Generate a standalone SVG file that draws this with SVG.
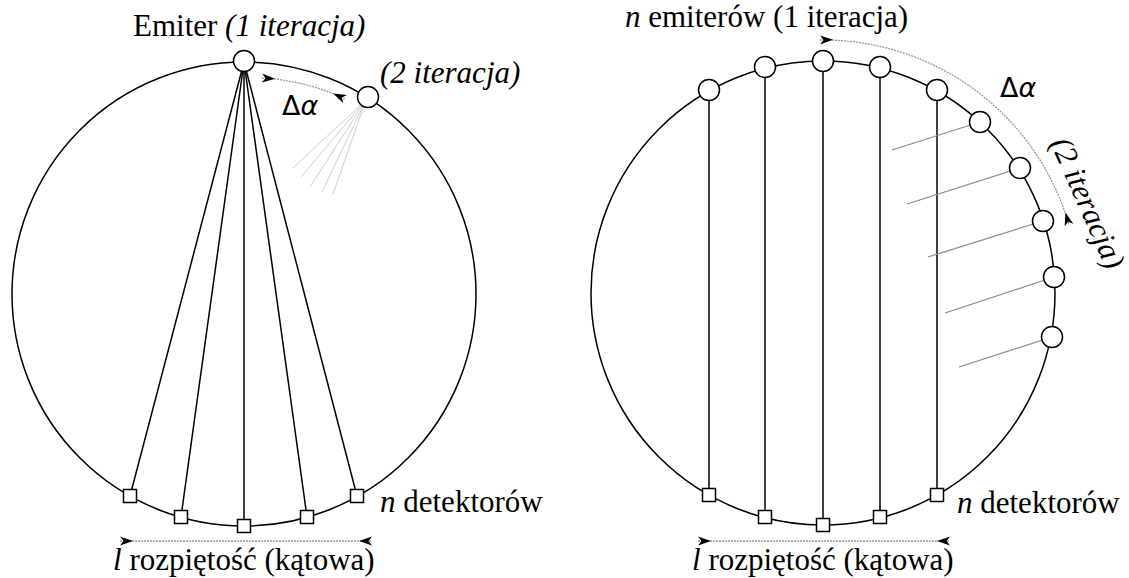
<svg xmlns="http://www.w3.org/2000/svg" width="1129" height="578" viewBox="0 0 1129 578">
<style>
.ring{fill:none;stroke:#000;stroke-width:1.5}
.em{fill:#fff;stroke:#000;stroke-width:1.5}
.det{fill:#fff;stroke:#000;stroke-width:1.5}
.ray{stroke:#000;stroke-width:1.5;fill:none}
.ghost{stroke:#cfcfcf;stroke-width:1;fill:none}
.ghost2{stroke:#8a8a8a;stroke-width:1.2;fill:none}
.dim{stroke:#999;stroke-width:1.3;fill:none;stroke-dasharray:2 1}
.t{font-family:"Liberation Serif","Times New Roman",serif;font-size:31px;fill:#000}
.i{font-style:italic}
.g{font-family:"DejaVu Sans",sans-serif;font-size:27px;fill:#000}
</style>
<defs>
<marker id="fwd" viewBox="0 -5 13 10" refX="0" refY="0" markerWidth="13" markerHeight="10" markerUnits="userSpaceOnUse" orient="auto">
<path d="M0,-4.5 L13,0 L0,4.5 L3.5,0 Z" fill="#000"/>
</marker>
<marker id="back" viewBox="-13 -5 13 10" refX="0" refY="0" markerWidth="13" markerHeight="10" markerUnits="userSpaceOnUse" orient="auto">
<path d="M0,-4.5 L-13,0 L0,4.5 L-3.5,0 Z" fill="#000"/>
</marker>
</defs>

<g id="connectors">
<line class="ray" x1="244" y1="62" x2="130" y2="496"/>
<line class="ray" x1="244" y1="62" x2="181" y2="517"/>
<line class="ray" x1="244" y1="62" x2="244" y2="526"/>
<line class="ray" x1="244" y1="62" x2="307" y2="517"/>
<line class="ray" x1="244" y1="62" x2="357" y2="496"/>
<line class="ghost" x1="366" y1="100" x2="293" y2="168"/>
<line class="ghost" x1="366" y1="100" x2="301" y2="177"/>
<line class="ghost" x1="366" y1="100" x2="310" y2="187"/>
<line class="ghost" x1="366" y1="100" x2="322" y2="192"/>
<line class="ghost" x1="366" y1="100" x2="333" y2="194"/>
<line class="ray" x1="709" y1="91" x2="709" y2="495"/>
<line class="ray" x1="765" y1="68" x2="765" y2="517"/>
<line class="ray" x1="823" y1="61" x2="823" y2="525"/>
<line class="ray" x1="880" y1="68" x2="880" y2="517"/>
<line class="ray" x1="937" y1="91" x2="937" y2="495"/>
<line class="ghost2" x1="980" y1="122" x2="892" y2="150"/>
<line class="ghost2" x1="1020" y1="168" x2="907" y2="204"/>
<line class="ghost2" x1="1043" y1="221" x2="928" y2="257"/>
<line class="ghost2" x1="1054" y1="277" x2="945" y2="313"/>
<line class="ghost2" x1="1052" y1="337" x2="959" y2="367"/>
<path class="dim" d="M262,78 A218,218 0 0 1 345,99" marker-start="url(#fwd)" marker-end="url(#back)"/>
<path class="dim" d="M120,541 L372,541" marker-start="url(#fwd)" marker-end="url(#back)"/>
<path class="dim" d="M820,40 A256,256 0 0 1 1069,225" marker-start="url(#fwd)" marker-end="url(#back)"/>
<path class="dim" d="M698,541 L950,541" marker-start="url(#fwd)" marker-end="url(#back)"/>
</g>

<g id="left-ring"><circle class="ring" cx="244" cy="294" r="232"/></g>
<g id="right-ring"><circle class="ring" cx="823" cy="293" r="232"/></g>

<g id="left-emitter"><circle class="em" cx="244" cy="61" r="10.5"/></g>
<g id="left-emitter-2"><circle class="em" cx="368" cy="97" r="10.5"/></g>
<g id="left-detectors">
<rect class="det" x="123.5" y="489.5" width="13" height="13"/>
<rect class="det" x="174.5" y="510.5" width="13" height="13"/>
<rect class="det" x="237.5" y="519.5" width="13" height="13"/>
<rect class="det" x="300.5" y="510.5" width="13" height="13"/>
<rect class="det" x="350.5" y="489.5" width="13" height="13"/>
</g>

<g id="right-emitters">
<circle class="em" cx="709" cy="90" r="10.5"/>
<circle class="em" cx="765" cy="67" r="10.5"/>
<circle class="em" cx="823" cy="61" r="10.5"/>
<circle class="em" cx="880" cy="67" r="10.5"/>
<circle class="em" cx="937" cy="90" r="10.5"/>
</g>
<g id="right-emitters-2">
<circle class="em" cx="980" cy="122" r="10.5"/>
<circle class="em" cx="1020" cy="168" r="10.5"/>
<circle class="em" cx="1043" cy="221" r="10.5"/>
<circle class="em" cx="1054" cy="277" r="10.5"/>
<circle class="em" cx="1052" cy="337" r="10.5"/>
</g>
<g id="right-detectors">
<rect class="det" x="702.5" y="488.5" width="13" height="13"/>
<rect class="det" x="758.5" y="510.5" width="13" height="13"/>
<rect class="det" x="816.5" y="518.5" width="13" height="13"/>
<rect class="det" x="873.5" y="510.5" width="13" height="13"/>
<rect class="det" x="930.5" y="488.5" width="13" height="13"/>
</g>

<g id="labels">
<text class="t" x="133" y="36">Emiter <tspan class="i">(1 iteracja)</tspan></text>
<text class="t i" x="380" y="83">(2 iteracja)</text>
<text class="g" x="282" y="115">Δ<tspan font-style="italic">α</tspan></text>
<text class="t" x="380" y="512"><tspan class="i">n</tspan> detektorów</text>
<text class="t" x="113" y="570"><tspan class="i">l</tspan> rozpiętość (kątowa)</text>
<text class="t" x="625" y="27"><tspan class="i">n</tspan> emiterów (1 iteracja)</text>
<text class="g" x="1000" y="97">Δ<tspan font-style="italic">α</tspan></text>
<text class="t i" font-size="30" transform="translate(1050,143) rotate(66)">(2 iteracja)</text>
<text class="t" x="957" y="513"><tspan class="i">n</tspan> detektorów</text>
<text class="t" x="692" y="570"><tspan class="i">l</tspan> rozpiętość (kątowa)</text>
</g>
</svg>
